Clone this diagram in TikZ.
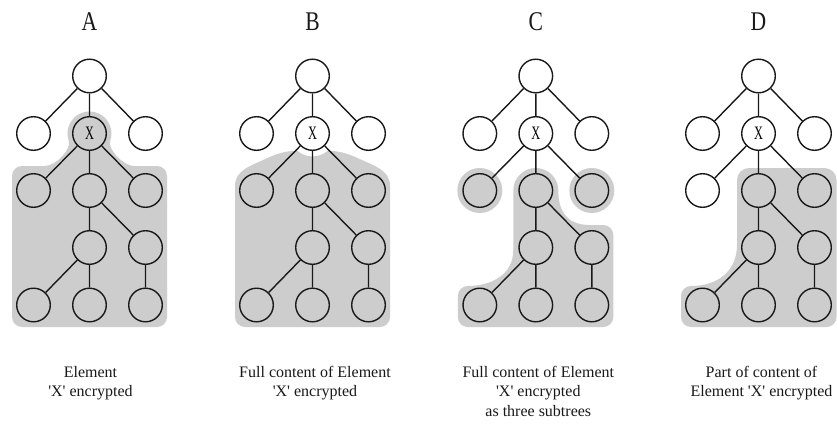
\documentclass[tikz,border=0pt]{standalone}
\usepackage{fontspec}
\setmainfont{Liberation Serif}
\newfontfamily\titlefont[FakeStretch=0.8]{Liberation Serif}
\newfontfamily\xfontfam[FakeStretch=0.65]{Liberation Serif}
\definecolor{encgray}{RGB}{205,205,205}
\definecolor{ink}{RGB}{25,25,25}
\tikzset{
  nd/.style={circle,draw=ink,line width=1.4pt,minimum size=33.6pt,inner sep=0pt},
  link/.style={draw=ink,line width=1.4pt},
  enc/.style={fill=encgray},
  paneltitle/.style={anchor=base,font=\titlefont\fontsize{27}{27}\selectfont,text=ink,inner sep=0pt},
  captxt/.style={anchor=north,align=center,font=\fontsize{16}{19.5}\selectfont,text=ink,inner sep=0pt},
}
\newcommand\enctree[1]{%
  \node[nd] (#1r) at (0,76) {};
  \node[nd] (#1a) at (-56,133.5) {};
  \node[nd] (#1x) at (0,133.5) {\xfontfam\fontsize{19}{19}\selectfont X};
  \node[nd] (#1b) at (56,133.5) {};
  \node[nd] (#1c) at (-56,190.5) {};
  \node[nd] (#1d) at (0,190.5) {};
  \node[nd] (#1e) at (56,190.5) {};
  \node[nd] (#1f) at (0,247.5) {};
  \node[nd] (#1g) at (56,247.5) {};
  \node[nd] (#1h) at (-56,305) {};
  \node[nd] (#1i) at (0,305) {};
  \node[nd] (#1j) at (56,305) {};
  \draw[link] (#1r)--(#1a) (#1r)--(#1x) (#1r)--(#1b)
              (#1x)--(#1c) (#1x)--(#1d) (#1x)--(#1e)
              (#1d)--(#1f) (#1d)--(#1g)
              (#1f)--(#1h) (#1f)--(#1i) (#1g)--(#1j);
}
\begin{document}
\begin{tikzpicture}[x=1pt,y=-1pt]
\useasboundingbox (0,0) rectangle (837,423);
\fill[white] (0,0) rectangle (837,423);

% Panel A
\begin{scope}[xshift=89.5pt]
  \fill[enc] (-77.5,176) arc[start angle=180,end angle=270,radius=10] -- (-45,166)
    .. controls (-33,166) and (-18,148.5) .. (-20.7,141)
    arc[start angle=160,end angle=380,radius=22]
    .. controls (18,148.5) and (33,166) .. (45,166) -- (67.5,166)
    arc[start angle=270,end angle=360,radius=10] -- (77.5,317)
    arc[start angle=0,end angle=90,radius=10] -- (-67.5,327)
    arc[start angle=90,end angle=180,radius=10] -- cycle;
  \enctree{A}
  \node[paneltitle] (tA) at (0,30) {A};
  \node[captxt] (cA) at (1,366) {Element\\\textquotesingle X\textquotesingle{} encrypted};
\end{scope}

% Panel B
\begin{scope}[xshift=312.5pt]
  \fill[enc] (-77.5,317) -- (-77.5,186)
    .. controls (-77.5,170) and (-62,166) .. (-45,158)
    .. controls (-33,152.5) and (-24,150.5) .. (-14.8,151.1)
    arc[start angle=130,end angle=50,radius=23]
    .. controls (24,150.5) and (33,152.5) .. (45,158)
    .. controls (62,166) and (77.5,170) .. (77.5,186) -- (77.5,317)
    arc[start angle=0,end angle=90,radius=10] -- (-67.5,327)
    arc[start angle=90,end angle=180,radius=10] -- cycle;
  \enctree{B}
  \node[paneltitle] (tB) at (0,30) {B};
  \node[captxt] (cB) at (2.5,366) {Full content of Element\\\textquotesingle X\textquotesingle{} encrypted};
\end{scope}

% Panel C
\begin{scope}[xshift=535.8pt]
  \fill[enc] (-56,190.5) circle[radius=22.5];
  \fill[enc] (56,190.5) circle[radius=22.5];
  \fill[enc] (-22.5,190.5) arc[start angle=180,end angle=360,radius=22.5]
    .. controls (22.5,210) and (30,224) .. (52,225) -- (67.5,225)
    arc[start angle=270,end angle=360,radius=10] -- (77.5,317)
    arc[start angle=0,end angle=90,radius=10] -- (-68,327)
    arc[start angle=90,end angle=180,radius=10] -- (-78,296)
    arc[start angle=180,end angle=270,radius=10]
    .. controls (-45,286) and (-22.5,275) .. (-22.5,250) -- cycle;
  \enctree{C}
  \node[paneltitle] (tC) at (0,30) {C};
  \node[captxt] (cC) at (2.5,366) {Full content of Element\\\textquotesingle X\textquotesingle{} encrypted\\as three subtrees};
\end{scope}

% Panel D
\begin{scope}[xshift=758.5pt]
  \fill[enc] (-21.5,180) arc[start angle=180,end angle=270,radius=12] -- (66,168)
    arc[start angle=270,end angle=360,radius=12] -- (78,317)
    arc[start angle=0,end angle=90,radius=10] -- (-67.5,327)
    arc[start angle=90,end angle=180,radius=10] -- (-77.5,296)
    arc[start angle=180,end angle=270,radius=10]
    .. controls (-42,286) and (-21.5,272) .. (-21.5,245) -- cycle;
  \enctree{D}
  \node[paneltitle] (tD) at (0,30) {D};
  \node[captxt] (cD) at (3,366) {Part of content of\\Element \textquotesingle X\textquotesingle{} encrypted};
\end{scope}
\end{tikzpicture}
\end{document}
